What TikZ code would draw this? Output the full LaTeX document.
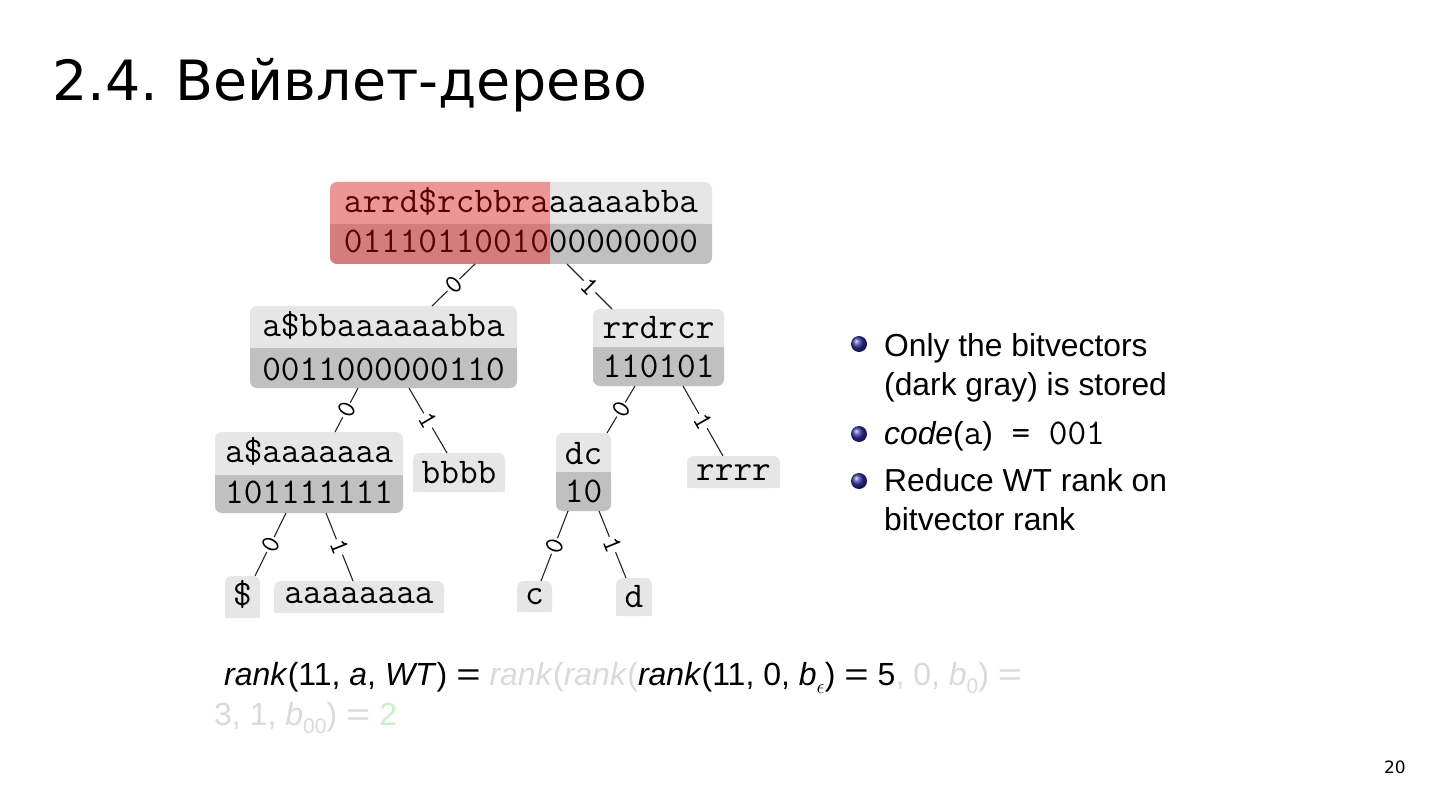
\documentclass[tikz,border=0pt]{standalone}
\usepackage{graphicx}
\usepackage{fontspec}
\setmainfont{Liberation Sans}
\newfontfamily\titlefont{DejaVu Sans}
\usetikzlibrary{calc}
\definecolor{lite}{RGB}{230,230,230}
\definecolor{dark}{RGB}{192,192,192}
\definecolor{fade}{RGB}{218,218,218}
\definecolor{faint}{RGB}{200,240,200}
\definecolor{bblue}{RGB}{50,50,160}
\newcommand\sbs[1]{\raisebox{-0.28em}{\fontsize{21}{21}\selectfont #1}}
\newcommand\eqs{\hspace{0.28em}\scalebox{1.3}[1]{=}\hspace{0.28em}}
\newcommand\wtarea[5]{\node[area, minimum width={(#4-#2)*1pt}, minimum height={(#5-#3)*1pt}] (#1) at (#2,#3) {};}
\newcommand\twobox[6]{%
  \fill[lite,rounded corners=7pt] (#2,#3) rectangle (#4,#5);
  \fill[dark,rounded corners=7pt] (#2,#6) rectangle (#4,#5);
  \fill[dark] (#2,#6) rectangle (#4,{#6+8});
  \wtarea{#1}{#2}{#3}{#4}{#5}}
\newcommand\onebox[5]{%
  \fill[lite,rounded corners=7pt] (#2,#3) rectangle (#4,#5);
  \fill[lite] (#2,{#5-8}) rectangle (#4,#5);
  \wtarea{#1}{#2}{#3}{#4}{#5}}
\tikzset{
  area/.style={anchor=north west, inner sep=0pt, outer sep=0pt, draw=none},
  seq/.style={font=\fontsize{36.2}{40}\selectfont\ttfamily, inner sep=0pt, anchor=base},
  edge/.style={draw=black!85, line width=1.1pt},
  lbl/.style={sloped, fill=white, inner sep=1.2pt, font=\fontsize{27}{27}\selectfont\ttfamily},
  ball/.style={circle, minimum size=16pt, inner sep=0pt, shading=ball, ball color=bblue},
  btxt/.style={anchor=base west, inner sep=0pt, font=\fontsize{31.8}{38}\selectfont},
  frm/.style={anchor=base west, inner sep=0pt, font=\fontsize{32}{38}\selectfont}
}
\begin{document}
\frenchspacing
\begin{tikzpicture}[x=1pt,y=-1pt]
\useasboundingbox[fill=white] (0,0) rectangle (1440,810);

% title
\node[anchor=base west, inner sep=0pt, font=\titlefont\fontsize{55.5}{60}\selectfont] (title) at (52,101) {2.4. Вейвлет-дерево};

% boxes
\twobox{r}{330}{182}{712}{264}{224}
\twobox{n0}{250}{306}{517}{388}{348}
\twobox{n1}{593}{309}{724}{386}{347}
\twobox{n00}{215}{432}{403}{513}{475}
\onebox{n01}{413}{453}{505}{492}
\twobox{n10}{556}{433}{611}{511}{472}
\onebox{n11}{687}{456}{780}{488}
\onebox{ls}{225}{576}{260}{618}
\onebox{la}{274}{581}{444}{613}
\onebox{lc}{517}{581}{552}{612}
\onebox{ld}{616}{578}{652}{616}

% texts
\node[seq] (rt) at (521,213) {arrd\$rcbbraaaaaabba};
\node[seq] (rb) at (521,253) {0111011001000000000};
\node[seq] (n0t) at (383.5,336) {a\$bbaaaaaabba};
\node[seq] (n0b) at (383.5,380) {0011000000110};
\node[seq] (n1t) at (658.5,338) {rrdrcr};
\node[seq] (n1b) at (658.5,377) {110101};
\node[seq] (n00t) at (309,462) {a\$aaaaaaa};
\node[seq] (n00b) at (309,503) {101111111};
\node[seq] (n01t) at (459,483) {bbbb};
\node[seq] (n10t) at (583.5,464) {dc};
\node[seq] (n10b) at (583.5,502) {10};
\node[seq] (n11t) at (733.5,480) {rrrr};
\node[seq] (lst) at (242.5,605) {\$};
\node[seq] (lat) at (359,603) {aaaaaaaa};
\node[seq] (lct) at (534.5,604) {c};
\node[seq] (ldt) at (634,607) {d};

% red highlight
\begin{scope}
\clip (330,170) rectangle (550,280);
\fill[red, opacity=0.35, rounded corners=7pt] (330,182) rectangle (712,264);
\end{scope}

% edges
\draw[edge] ([xshift=145pt]r.south west) -- node[lbl]{0} ([xshift=182pt]n0.north west);
\draw[edge] ([xshift=237pt]r.south west) -- node[lbl]{1} ([xshift=19pt]n1.north west);
\draw[edge] ([xshift=108pt]n0.south west) -- node[lbl]{0} ([xshift=120pt]n00.north west);
\draw[edge] ([xshift=159pt]n0.south west) -- node[lbl]{1} ([xshift=34pt]n01.north west);
\draw[edge] ([xshift=42pt]n1.south west) -- node[lbl]{0} ([xshift=51pt]n10.north west);
\draw[edge] ([xshift=90pt]n1.south west) -- node[lbl]{1} ([xshift=36pt]n11.north west);
\draw[edge] ([xshift=71pt]n00.south west) -- node[lbl]{0} ([xshift=30pt]ls.north west);
\draw[edge] ([xshift=111pt]n00.south west) -- node[lbl]{1} ([xshift=79pt]la.north west);
\draw[edge] ([xshift=12pt]n10.south west) -- node[lbl]{0} ([xshift=24pt]lc.north west);
\draw[edge] ([xshift=43pt]n10.south west) -- node[lbl]{1} ([xshift=10pt]ld.north west);

% bullets
\node[ball] (b1) at (859,344) {};
\node[ball] (b2) at (859,434) {};
\node[ball] (b3) at (859,481) {};
\node[btxt] (t1) at (884,356) {Only the bitvectors};
\node[btxt] (t2) at (884,395) {(dark gray) is stored};
\node[btxt] (t3) at (884,444) {\textit{code}({\fontsize{36.2}{38}\selectfont\ttfamily a}){\fontsize{36.2}{38}\selectfont\ttfamily\ =\ 001}};
\node[btxt] (t4) at (884,491) {Reduce WT rank on};
\node[btxt] (t5) at (884,530) {bitvector rank};

% formula
\node[frm] (f1) at (224,685) {\textit{rank}(11, \textit{a}, \textit{WT})\eqs\textcolor{fade}{\textit{rank}(\textit{rank}(}\textit{rank}(11, 0, \textit{b}\sbs{$\epsilon$})\eqs 5\textcolor{fade}{, 0, \textit{b}\sbs{0})\eqs}};
\node[frm] (f2) at (214,725) {\textcolor{fade}{3, 1, \textit{b}\sbs{00})\eqs}\textcolor{faint}{2}};

% page number
\node[anchor=base east, inner sep=0pt, font=\titlefont\fontsize{17}{20}\selectfont] (pg) at (1406,773) {20};
\end{tikzpicture}
\end{document}
